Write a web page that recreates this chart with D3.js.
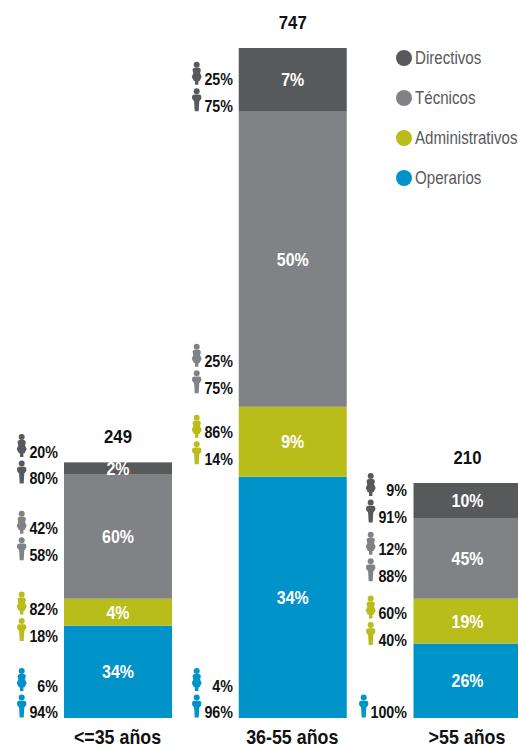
<!DOCTYPE html>
<html lang="es">
<head>
  <meta charset="UTF-8">
  <title>Plantilla por edad</title>
  <style>
    html, body { margin: 0; padding: 0; background: #fff; }
    svg { display: block; }
    text { font-family: "Liberation Sans", sans-serif; }
  </style>
</head>
<body>
<svg id="chart" width="518" height="749"></svg>

<script src="https://cdn.jsdelivr.net/npm/d3@7"></script>
<script>
  "use strict";

  var ageGroups = ["<=35 años", "36-55 años", ">55 años"];
  var totals = [249, 747, 210];
  var seriesNames = ["Operarios", "Administrativos", "Técnicos", "Directivos"];
  var seriesColors = ["#0093c9", "#b9bd19", "#808285", "#58595b"];

  // segment sizes (they do not follow the printed %)
  var operarios = [103, 269, 83];
  var administrativos = [30, 78, 50];
  var tecnicos = [139, 329, 90];
  var directivos = [13, 71, 39];

  var pctOperarios = ["34%", "34%", "26%"];
  var pctAdministrativos = ["4%", "9%", "19%"];
  var pctTecnicos = ["60%", "50%", "45%"];
  var pctDirectivos = ["2%", "7%", "10%"];

  // share of women / men per group, same order as seriesNames
  var women = [["6%", "4%", null], ["82%", "86%", "60%"], ["42%", "25%", "12%"], ["20%", "25%", "9%"]];
  var men = [["94%", "96%", "100%"], ["18%", "14%", "40%"], ["58%", "75%", "88%"], ["80%", "75%", "91%"]];

  var values = [operarios, administrativos, tecnicos, directivos];
  var pcts = [pctOperarios, pctAdministrativos, pctTecnicos, pctDirectivos];

  var baseY = 718;
  var svg = d3.select("#chart");

  var x = d3.scalePoint().domain(ageGroups).range([64, 413.5]);
  var barW = 108;
  var y = d3.scaleLinear().domain([0, 747]).range([baseY, 48]);

  var stacked = d3.stack().keys(d3.range(4)).value(function(d, k){ return values[k][d]; })(d3.range(3));

  // no condensed face is installed, so squeeze the text sideways
  function label(px, py, str, size, squeeze, anchor, color, weight) {
    return svg.append("text")
      .attr("transform", "translate(" + px + "," + py + ") scale(" + squeeze + ",1)")
      .attr("text-anchor", anchor)
      .attr("font-size", size)
      .attr("font-weight", weight)
      .attr("fill", color)
      .text(str);
  }

  // bars
  var layers = svg.selectAll("g.layer")
    .data(stacked)
    .enter()
    .append("g")
    .attr("class", "layer")
    .attr("fill", function(d,i){ return seriesColors[i]; });

  layers.selectAll("rect")
    .data(function(d){ return d; })
    .enter()
    .append("rect")
    .attr("x", function(d,i){ return x(ageGroups[i]); })
    .attr("y", function(d){ return y(d[1]); })
    .attr("width", barW)
    .attr("height", function(d){ return y(d[0]) - y(d[1]); });

  // percent inside bars
  stacked.forEach(function(layer, s){
    layer.forEach(function(d, i){
      label(x(ageGroups[i]) + barW / 2, (y(d[0]) + y(d[1])) / 2 + 6.5, pcts[s][i], 19, 0.84, "middle", "#fff", "bold");
    });
  });

  // totals and category labels
  ageGroups.forEach(function(g, i){
    var cx = x(g) + barW / 2;
    var top = y(d3.sum(values, function(v){ return v[i]; }));
    label(cx, top - 19, totals[i], 19, 0.88, "middle", "#111", "bold");
    label(cx - 0.5, 744, g, 21, 0.85, "middle", "#111", "bold");
  });

  // little people: origin at the feet, centred
  var manBody = "M-2,0 L-2.6,-10 L-4.6,-12.5 L-4.6,-15 Q-4.4,-16.8 -2.5,-16.8 L2.5,-16.8 Q4.4,-16.8 4.6,-15 L4.6,-12.5 L2.6,-10 L2,0 Z";
  var womanBody = "M-1.7,0 L-1.7,-3.5 L-3,-4 L-5,-8 L-3.4,-11.5 L-4.2,-15 Q-3.6,-17 -2,-17 L2,-17 Q3.6,-17 4.2,-15 L3.4,-11.5 L5,-8 L3,-4 L1.7,-3.5 L1.7,0 Z";

  function person(px, feetY, color, body) {
    var g = svg.append("g")
      .attr("transform", "translate(" + px + "," + feetY + ")")
      .attr("fill", color);
    g.append("path").attr("d", body);
    g.append("circle").attr("cy", -20).attr("r", 3);
  }

  // where the lower (men) row sits against the bottom of each segment
  var rowOffset = [
    [-6, 10, -44, 4],
    [-6, -18, -19, -6],
    [-6, -4, -23, -1]
  ];
  var rowGap = 26.5;
  var iconX = [21.7, 196.7, 370.7];
  var textRight = [58, 233, 407];

  stacked.forEach(function(layer, s){
    layer.forEach(function(d, i){
      var my = y(d[0]) + rowOffset[i][s];
      var rows = [[men[s][i], my, manBody], [women[s][i], my - rowGap, womanBody]];
      rows.forEach(function(r){
        if (r[0] === null) return;
        var ix = r[0].length > 3 ? iconX[i] - 7 : iconX[i];
        person(ix, r[1] + 5.5, seriesColors[s], r[2]);
        label(textRight[i], r[1] + 6, r[0], 17, 0.84, "end", "#111", "bold");
      });
    });
  });

  // legend
  var legendOrder = [3, 2, 1, 0];
  var legendY = d3.scalePoint().domain(legendOrder).range([58, 178]);

  legendOrder.forEach(function(d){
    svg.append("circle")
      .attr("cx", 404)
      .attr("cy", legendY(d))
      .attr("r", 8)
      .attr("fill", seriesColors[d]);
    label(415, legendY(d) + 6, seriesNames[d], 18, 0.84, "start", "#58595b", "normal");
  });
</script>
</body>
</html>
